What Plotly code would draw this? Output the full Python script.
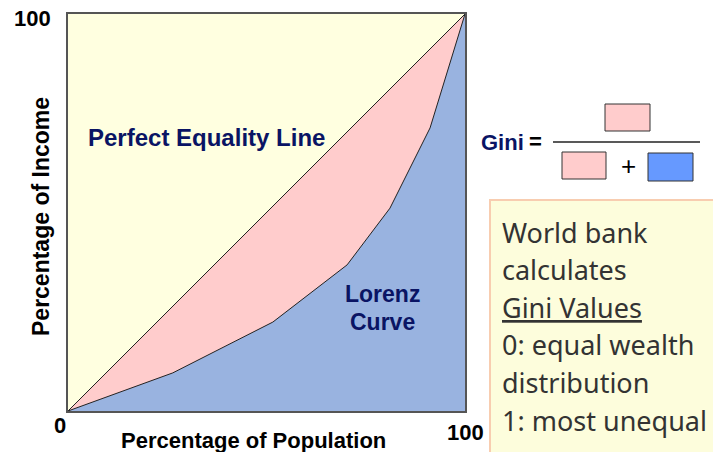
import plotly.graph_objects as go

# ---- data ----
population_pct = [0, 26.4, 51.6, 70.3, 81.1, 91.2, 100]
income_pct = [0, 9.6, 22.4, 36.8, 51.1, 71.3, 100]
equality_x = [0, 100]
equality_y = [0, 100]
box_lines = ["World bank", "calculates", "<u>Gini Values</u>",
             "0: equal wealth", "distribution", "1: most unequal"]

W, H = 713, 452
L, R, T, B = 68, 465, 14, 411
PW, PH = R - L, B - T

def px(x):
    return (x - L) / PW

def py(y):
    return (B - y) / PH

NAVY = "#0a1464"
fig = go.Figure()
fig.add_trace(go.Scatter(x=equality_x, y=equality_y, mode="lines",
                         line=dict(color="#222", width=1),
                         fill="tozeroy", fillcolor="#FFCCCC", showlegend=False,
                         hoverinfo="skip"))
fig.add_trace(go.Scatter(x=population_pct, y=income_pct, mode="lines",
                         line=dict(color="#222", width=1),
                         fill="tozeroy", fillcolor="#99B3E0", showlegend=False,
                         hoverinfo="skip"))

axis_common = dict(range=[0, 100], showgrid=False, zeroline=False,
                   showticklabels=False, ticks="", showline=True,
                   linecolor="#555", linewidth=2, mirror=True)
fig.update_xaxes(**axis_common)
fig.update_yaxes(**axis_common)

ann = []
bold = dict(family="Liberation Sans, Arial", size=22, color="black")
title_font = dict(family="Liberation Sans, Arial", size=23, color="black")
ann.append(dict(x=px(32), y=py(19), text="<b>100</b>", font=bold))
ann.append(dict(x=px(60), y=py(425), text="<b>0</b>", font=bold))
ann.append(dict(x=px(465), y=py(432), text="<b>100</b>", font=bold))
ann.append(dict(x=px(253), y=py(440), text="<b>Percentage of Population</b>",
                font=dict(family="Liberation Sans, Arial", size=22, color="black")))
ann.append(dict(x=px(41), y=py(217), text="<b>Percentage of Income</b>", font=title_font, textangle=-90))
navy = dict(family="Liberation Sans, Arial", size=23, color=NAVY)
ann.append(dict(x=px(206), y=py(137), text="<b>Perfect Equality Line</b>",
                font=dict(family="Liberation Sans, Arial", size=24, color=NAVY)))
ann.append(dict(x=px(382), y=py(294), text="<b>Lorenz</b>", font=navy))
ann.append(dict(x=px(382), y=py(322), text="<b>Curve</b>", font=navy))
ann.append(dict(x=px(479), y=py(142), text="<b>Gini</b>", font=dict(family="Liberation Sans, Arial", size=22, color=NAVY), xanchor="left"))
ann.append(dict(x=px(535), y=py(141), text="<b>=</b>", font=dict(family="Liberation Sans, Arial", size=22, color="black")))
ann.append(dict(x=px(628), y=py(166), text="+", font=dict(family="Liberation Sans, Arial", size=26, color="black")))

box_font = dict(family="Noto Sans", size=27, color="#333333")
for i, line in enumerate(box_lines):
    ann.append(dict(x=px(500), y=py(232 + 37.6 * i), text=line, font=box_font, xanchor="left"))

for a in ann:
    a.setdefault("xanchor", "center")
    a.update(xref="paper", yref="paper", yanchor="middle", showarrow=False)

shapes = [
    dict(type="rect", x0=px(490), x1=px(730), y0=py(200), y1=py(470),
         fillcolor="#FDFDDC", line=dict(color="#F8CDB0", width=2), layer="above"),
    dict(type="rect", x0=px(605), x1=px(650), y0=py(104), y1=py(131),
         fillcolor="#FFCCCC", line=dict(color="#333", width=1)),
    dict(type="line", x0=px(553), x1=px(700), y0=py(142), y1=py(142),
         line=dict(color="#222", width=1.5)),
    dict(type="rect", x0=px(562), x1=px(606), y0=py(152), y1=py(179),
         fillcolor="#FFCCCC", line=dict(color="#333", width=1)),
    dict(type="rect", x0=px(648), x1=px(693), y0=py(153), y1=py(181),
         fillcolor="#6699FF", line=dict(color="#333", width=1)),
]
for s in shapes:
    s.update(xref="paper", yref="paper")

fig.update_layout(width=W, height=H, margin=dict(l=L, r=W - R, t=T, b=H - B),
                  plot_bgcolor="#FFFFE0", paper_bgcolor="white",
                  annotations=ann, shapes=shapes, showlegend=False)
fig.write_html("out.html", config={"displayModeBar": False},
               post_script="document.body.style.margin='0';")
